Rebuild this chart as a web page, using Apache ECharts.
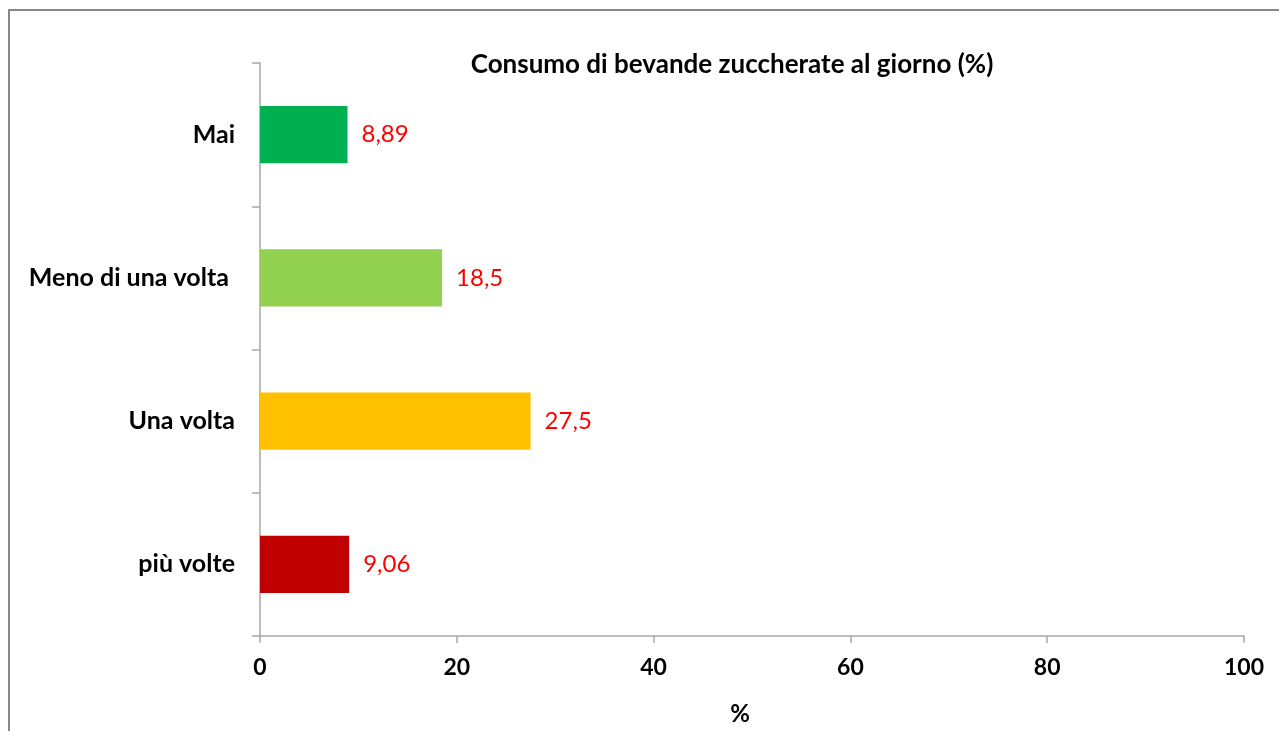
<!DOCTYPE html>
<html>
<head>
<meta charset="utf-8">
<script src="https://cdn.jsdelivr.net/npm/echarts@6/dist/echarts.min.js"></script>
<style>html,body{margin:0;padding:0;background:#fff}#c{width:1279px;height:731px}</style>
</head>
<body>
<div id="c"></div>
<script>
const categories = ['Mai', 'Meno di una volta ', 'Una volta', 'più volte'];
const values = [8.89, 18.5, 27.5, 9.06];
const valueLabels = ['8,89', '18,5', '27,5', '9,06'];
const colors = ['#00B050', '#92D050', '#FFC000', '#C00000'];
const xTicks = [0, 20, 40, 60, 80, 100];

const font = "Lato, 'Open Sans', sans-serif";
const chart = echarts.init(document.getElementById('c'));
chart.setOption({
  animation: false,
  backgroundColor: '#fff',
  title: {
    text: 'Consumo di bevande zuccherate al giorno (%)',
    left: 727, textAlign: 'center', top: 47,
    textStyle: { fontFamily: font, fontSize: 26, fontWeight: 'bold', color: '#000' }
  },
  graphic: [{
    type: 'rect', shape: { x: 9, y: 10, width: 1290, height: 740 },
    style: { fill: 'none', stroke: '#878787', lineWidth: 2 }, silent: true
  }],
  grid: { left: 260, right: 35, top: 63, bottom: 95 },
  xAxis: {
    type: 'value', min: xTicks[0], max: xTicks[xTicks.length - 1], interval: 20,
    name: '%', nameLocation: 'middle', nameGap: 66,
    nameTextStyle: { fontFamily: font, fontSize: 24, fontWeight: 'bold', color: '#000', padding: [0, 24, 0, 0] },
    axisLine: { show: true, lineStyle: { color: '#A6A6A6', width: 1.5 } },
    axisTick: { show: true, length: 7, lineStyle: { color: '#A6A6A6', width: 1.5 } },
    splitLine: { show: false },
    axisLabel: { fontFamily: font, fontSize: 23, fontWeight: 'bold', color: '#000', margin: 20 }
  },
  yAxis: {
    type: 'category', data: categories, inverse: true,
    axisLine: { show: true, lineStyle: { color: '#A6A6A6', width: 1.5 } },
    axisTick: { show: true, length: 8, lineStyle: { color: '#A6A6A6', width: 1.5 } },
    axisLabel: { fontFamily: font, fontSize: 25, fontWeight: 'bold', color: '#000', margin: 25 }
  },
  series: [{
    type: 'bar',
    data: values.map((v, i) => ({ value: v, itemStyle: { color: colors[i] } })),
    barWidth: '40%',
    label: {
      show: true, position: 'right', distance: 14,
      formatter: p => valueLabels[p.dataIndex],
      fontFamily: font, fontSize: 24, color: '#FF0000'
    }
  }]
});
</script>
</body>
</html>
